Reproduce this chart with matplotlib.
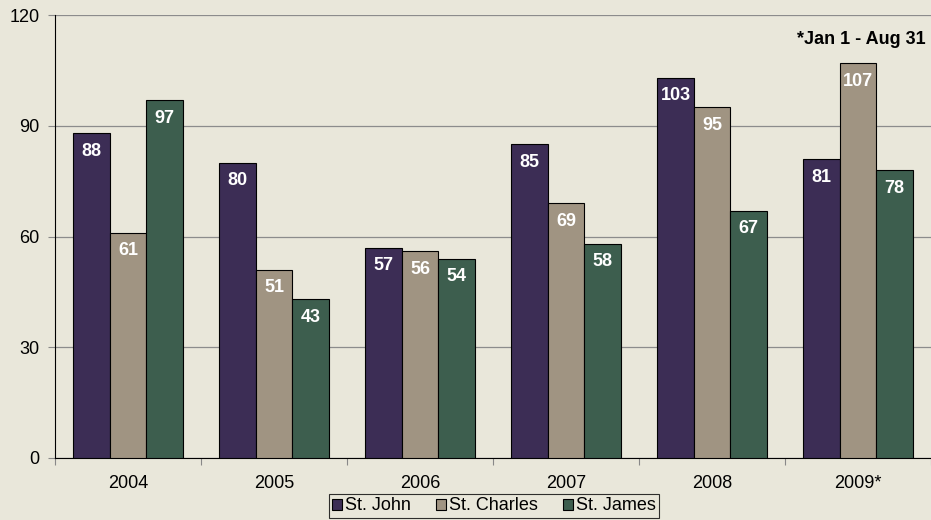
import matplotlib
matplotlib.use("Agg")
import matplotlib.pyplot as plt
import numpy as np

plt.rcParams['font.family'] = ['Liberation Sans', 'DejaVu Sans']

years = ["2004", "2005", "2006", "2007", "2008", "2009*"]
st_john = [88, 80, 57, 85, 103, 81]
st_charles = [61, 51, 56, 69, 95, 107]
st_james = [97, 43, 54, 58, 67, 78]

bg = "#E9E7DA"
colors = ["#3C2D55", "#A09482", "#3D5E4E"]
names = ["St. John", "St. Charles", "St. James"]

fig = plt.figure(figsize=(9.31, 5.2), dpi=100, facecolor=bg)
ax = fig.add_axes([55 / 931, 62 / 520, 876 / 931, 443 / 520], facecolor=bg)

x = np.arange(len(years))
w = 0.25
for i, (vals, c, n) in enumerate(zip([st_john, st_charles, st_james], colors, names)):
    pos = x + (i - 1) * w
    ax.bar(pos, vals, width=w, color=c, edgecolor="black", linewidth=0.8, label=n, zorder=3)
    for p, v in zip(pos, vals):
        ax.text(p, v - 2.6, str(v), ha="center", va="top", color="white",
                fontsize=13, fontweight="bold", zorder=4)

ax.set_xlim(-0.5, len(years) - 0.5)
ax.set_ylim(0, 120)
ax.set_yticks([0, 30, 60, 90, 120])
ax.set_xticks(np.arange(len(years) + 1) - 0.5, minor=False)
ax.set_xticklabels([])
ax.set_xticks(x, minor=True)
ax.set_xticklabels(years, minor=True)
ax.tick_params(axis="x", which="minor", length=0, pad=12, labelsize=13)
ax.tick_params(axis="x", which="major", length=5, color="#888888", direction="out")
ax.tick_params(axis="y", length=5, color="#888888", labelsize=13, pad=6)
ax.yaxis.grid(True, color="#8C8C8C", linewidth=0.9, zorder=0)

for s in ["top", "right"]:
    ax.spines[s].set_visible(False)
ax.spines["left"].set_color("black")
ax.spines["bottom"].set_color("black")

ax.text(0.994, 0.945, "*Jan 1 - Aug 31", transform=ax.transAxes, ha="right", va="center",
        fontsize=13, fontweight="bold")

leg = fig.legend(loc="center", bbox_to_anchor=(494 / 931, 1 - 506 / 520), ncol=3,
                 frameon=True, fancybox=False, edgecolor="black", facecolor=bg,
                 fontsize=13, handlelength=0.55, handleheight=0.55, handletextpad=0.15,
                 columnspacing=1.4, borderpad=0.2, borderaxespad=0)
leg.get_frame().set_linewidth(0.8)

fig.savefig("out.png", dpi=100, facecolor=bg)
